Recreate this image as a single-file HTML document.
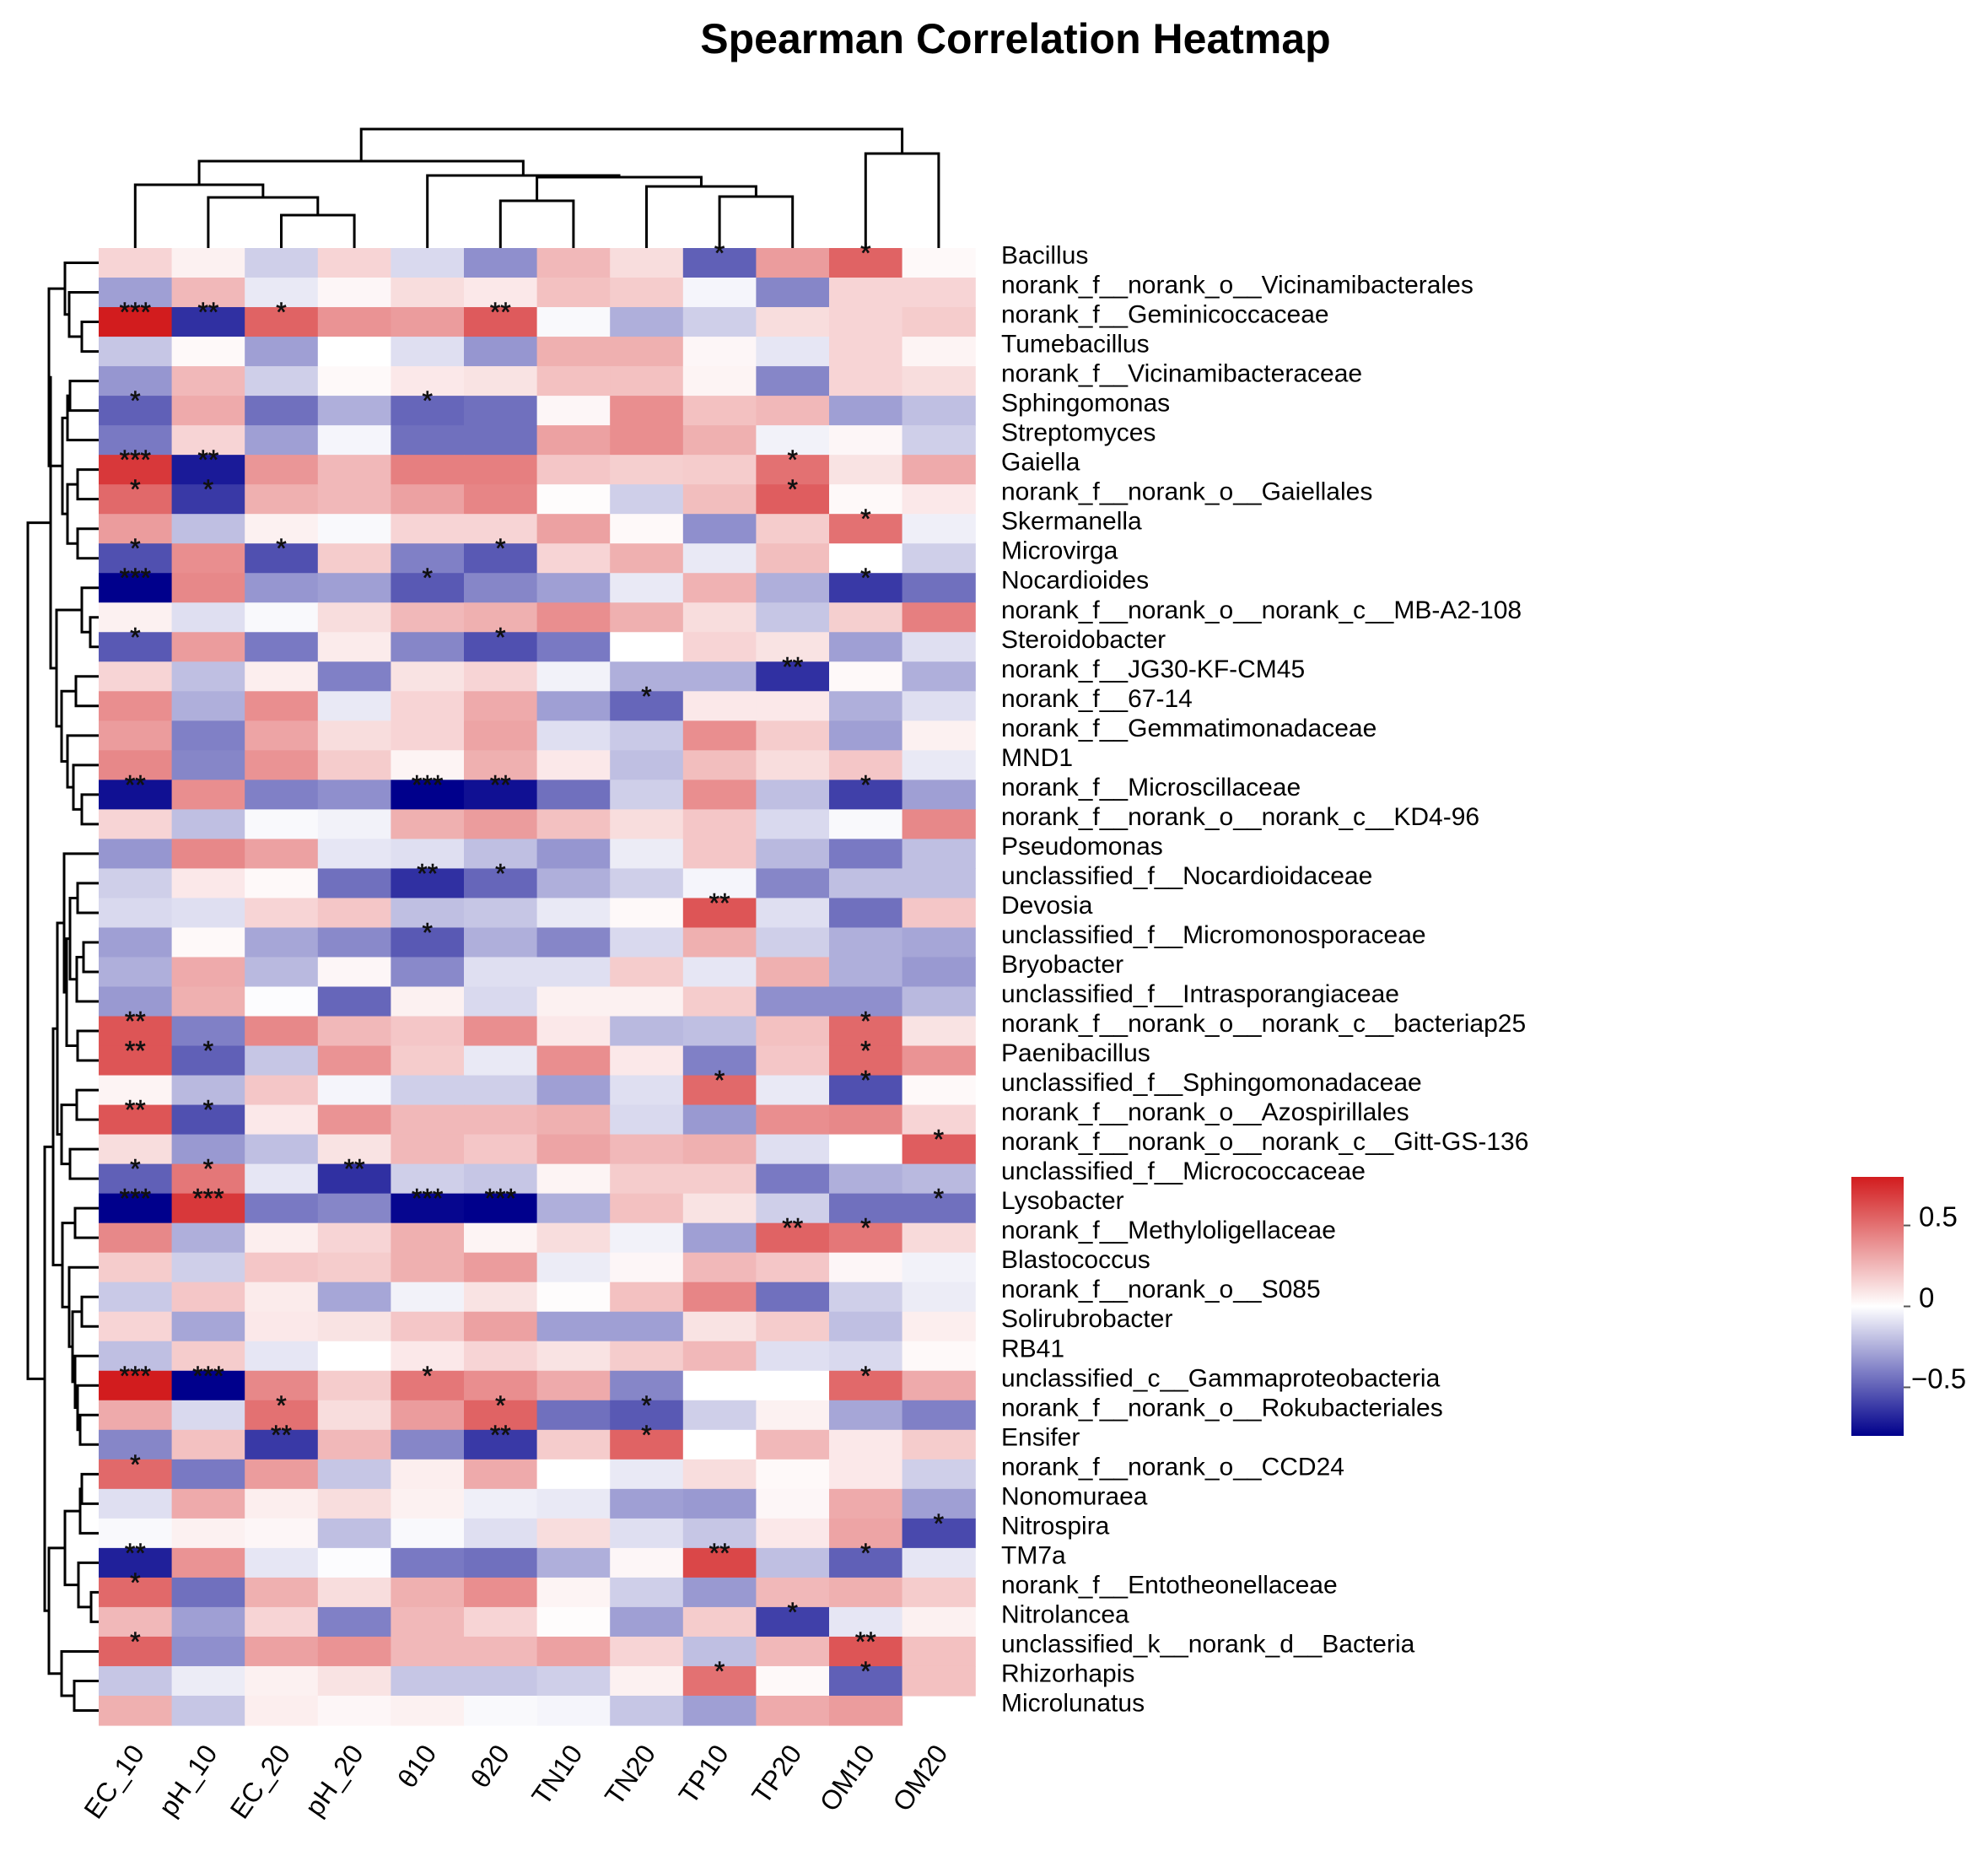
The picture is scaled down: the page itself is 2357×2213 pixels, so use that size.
<!DOCTYPE html>
<html><head><meta charset="utf-8"><title>Spearman Correlation Heatmap</title>
<style>
html,body{margin:0;padding:0;background:#fff;}
svg{display:block;font-family:"Liberation Sans",Arial,sans-serif;}
</style></head>
<body>
<svg id="chart" width="2357" height="2213" viewBox="0 0 2357 2213" xmlns="http://www.w3.org/2000/svg">
<text x="1204" y="63" text-anchor="middle" font-size="50" font-weight="bold">Spearman Correlation Heatmap</text>
<g id="cells"></g>
<g id="stars"></g>
<g id="rowlabels"></g>
<g id="collabels"></g>
<g id="coltree"></g>
<g id="rowtree"></g>
<g id="legend"></g>
</svg>
<script>
const columns = ["EC_10","pH_10","EC_20","pH_20","θ10","θ20","TN10","TN20","TP10","TP20","OM10","OM20"];
const rowNames = ["Bacillus","norank_f__norank_o__Vicinamibacterales","norank_f__Geminicoccaceae","Tumebacillus","norank_f__Vicinamibacteraceae","Sphingomonas","Streptomyces","Gaiella","norank_f__norank_o__Gaiellales","Skermanella","Microvirga","Nocardioides","norank_f__norank_o__norank_c__MB-A2-108","Steroidobacter","norank_f__JG30-KF-CM45","norank_f__67-14","norank_f__Gemmatimonadaceae","MND1","norank_f__Microscillaceae","norank_f__norank_o__norank_c__KD4-96","Pseudomonas","unclassified_f__Nocardioidaceae","Devosia","unclassified_f__Micromonosporaceae","Bryobacter","unclassified_f__Intrasporangiaceae","norank_f__norank_o__norank_c__bacteriap25","Paenibacillus","unclassified_f__Sphingomonadaceae","norank_f__norank_o__Azospirillales","norank_f__norank_o__norank_c__Gitt-GS-136","unclassified_f__Micrococcaceae","Lysobacter","norank_f__Methyloligellaceae","Blastococcus","norank_f__norank_o__S085","Solirubrobacter","RB41","unclassified_c__Gammaproteobacteria","norank_f__norank_o__Rokubacteriales","Ensifer","norank_f__norank_o__CCD24","Nonomuraea","Nitrospira","TM7a","norank_f__Entotheonellaceae","Nitrolancea","unclassified_k__norank_d__Bacteria","Rhizorhapis","Microlunatus"];
const values = [
[0.15,0.05,-0.15,0.15,-0.12,-0.35,0.25,0.12,-0.5,0.35,0.55,0.02],
[-0.3,0.25,-0.07,0.03,0.12,0.08,0.22,0.18,-0.03,-0.38,0.15,0.15],
[0.8,-0.65,0.55,0.38,0.35,0.58,-0.02,-0.25,-0.15,0.12,0.15,0.18],
[-0.18,0.02,-0.3,0.0,-0.1,-0.33,0.28,0.28,0.03,-0.08,0.15,0.04],
[-0.33,0.25,-0.15,0.02,0.08,0.1,0.22,0.22,0.04,-0.38,0.15,0.12],
[-0.5,0.3,-0.45,-0.25,-0.48,-0.45,0.03,0.4,0.22,0.25,-0.3,-0.2],
[-0.42,0.15,-0.3,-0.03,-0.45,-0.45,0.33,0.4,0.28,-0.04,0.03,-0.15],
[0.7,-0.72,0.37,0.25,0.45,0.45,0.2,0.17,0.18,0.5,0.1,0.3],
[0.53,-0.62,0.28,0.25,0.33,0.43,0.01,-0.15,0.23,0.57,0.02,0.08],
[0.35,-0.2,0.05,-0.02,0.15,0.15,0.33,0.02,-0.35,0.18,0.5,-0.05],
[-0.55,0.4,-0.55,0.18,-0.4,-0.52,0.15,0.28,-0.07,0.23,0.0,-0.15],
[-0.8,0.42,-0.33,-0.3,-0.52,-0.38,-0.3,-0.07,0.27,-0.25,-0.62,-0.45],
[0.05,-0.1,-0.02,0.12,0.25,0.28,0.4,0.28,0.12,-0.18,0.17,0.45],
[-0.52,0.35,-0.42,0.07,-0.38,-0.55,-0.42,0.0,0.15,0.1,-0.3,-0.1],
[0.15,-0.2,0.06,-0.4,0.1,0.15,-0.04,-0.25,-0.25,-0.65,0.02,-0.25],
[0.4,-0.25,0.4,-0.07,0.15,0.3,-0.3,-0.48,0.08,0.08,-0.25,-0.1],
[0.35,-0.4,0.32,0.12,0.15,0.32,-0.1,-0.17,0.4,0.18,-0.3,0.05],
[0.42,-0.38,0.38,0.18,0.04,0.28,0.08,-0.2,0.23,0.12,0.2,-0.07],
[-0.75,0.4,-0.4,-0.35,-0.85,-0.75,-0.45,-0.15,0.4,-0.2,-0.6,-0.3],
[0.15,-0.2,-0.02,-0.04,0.28,0.35,0.22,0.12,0.2,-0.12,-0.02,0.42],
[-0.33,0.42,0.33,-0.08,-0.1,-0.2,-0.33,-0.06,0.2,-0.22,-0.42,-0.2],
[-0.15,0.08,0.02,-0.45,-0.65,-0.48,-0.25,-0.15,-0.03,-0.38,-0.2,-0.2],
[-0.12,-0.1,0.15,0.2,-0.2,-0.18,-0.07,0.02,0.6,-0.1,-0.45,0.2],
[-0.3,0.02,-0.28,-0.37,-0.52,-0.25,-0.38,-0.12,0.28,-0.15,-0.25,-0.28],
[-0.25,0.3,-0.22,0.03,-0.37,-0.1,-0.1,0.18,-0.08,0.28,-0.25,-0.32],
[-0.32,0.28,-0.01,-0.48,0.05,-0.12,0.05,0.05,0.18,-0.35,-0.35,-0.22],
[0.6,-0.4,0.42,0.25,0.2,0.4,0.08,-0.22,-0.2,0.22,0.53,0.1],
[0.6,-0.5,-0.18,0.38,0.18,-0.07,0.4,0.08,-0.4,0.2,0.53,0.38],
[0.04,-0.22,0.2,-0.03,-0.15,-0.15,-0.3,-0.1,0.53,-0.07,-0.55,0.02],
[0.6,-0.55,0.08,0.38,0.25,0.25,0.28,-0.12,-0.32,0.4,0.42,0.15],
[0.12,-0.32,-0.2,0.1,0.25,0.2,0.32,0.25,0.28,-0.1,0.0,0.57],
[-0.5,0.48,-0.08,-0.65,-0.15,-0.18,0.04,0.18,0.18,-0.42,-0.25,-0.22],
[-0.85,0.7,-0.42,-0.38,-0.78,-0.85,-0.25,0.22,0.1,-0.15,-0.45,-0.45],
[0.42,-0.25,0.06,0.15,0.28,0.04,0.12,-0.04,-0.3,0.55,0.48,0.13],
[0.18,-0.15,0.2,0.18,0.28,0.35,-0.06,0.03,0.25,0.2,0.03,-0.04],
[-0.17,0.2,0.07,-0.28,-0.04,0.1,0.01,0.22,0.43,-0.45,-0.15,-0.06],
[0.15,-0.28,0.08,0.1,0.2,0.33,-0.3,-0.3,0.1,0.18,-0.2,0.06],
[-0.2,0.18,-0.08,0.0,0.08,0.15,0.1,0.18,0.25,-0.1,-0.12,0.02],
[0.8,-0.8,0.42,0.18,0.48,0.4,0.3,-0.38,0.0,0.0,0.53,0.3],
[0.3,-0.12,0.5,0.12,0.35,0.55,-0.45,-0.52,-0.15,0.05,-0.28,-0.4],
[-0.38,0.22,-0.62,0.25,-0.38,-0.62,0.18,0.55,0.0,0.25,0.08,0.18],
[0.53,-0.42,0.35,-0.18,0.06,0.3,0.0,-0.07,0.12,0.02,0.08,-0.15],
[-0.1,0.3,0.06,0.12,0.05,-0.05,-0.07,-0.3,-0.32,0.03,0.3,-0.3],
[-0.02,0.05,0.03,-0.2,-0.02,-0.1,0.12,-0.1,-0.18,0.08,0.32,-0.57],
[-0.7,0.38,-0.08,-0.01,-0.42,-0.45,-0.25,0.03,0.65,-0.2,-0.5,-0.08],
[0.53,-0.45,0.28,0.12,0.28,0.4,0.04,-0.15,-0.32,0.25,0.28,0.18],
[0.25,-0.3,0.15,-0.4,0.25,0.15,0.01,-0.3,0.18,-0.6,-0.08,0.05],
[0.55,-0.35,0.33,0.38,0.25,0.25,0.33,0.15,-0.2,0.25,0.6,0.22],
[-0.18,-0.06,0.05,0.1,-0.18,-0.18,-0.15,0.05,0.5,0.02,-0.5,0.22],
[0.28,-0.18,0.06,0.03,0.05,-0.02,-0.03,-0.18,-0.3,0.3,0.35,0.0]
];
// significance marks: [rowIndex(1-based), colIndex(0-based), mark]
const starRows = [1,1,3,3,3,3,6,6,8,8,8,9,9,9,10,11,11,11,12,12,12,14,14,15,16,19,19,19,19,22,22,23,24,27,27,28,28,28,29,29,30,30,31,32,32,32,33,33,33,33,33,34,34,39,39,39,39,40,40,40,41,41,41,42,44,45,45,45,46,47,48,48,49,49];
const starCols = [8,10,0,1,2,5,0,4,0,1,9,0,1,9,10,0,2,5,0,4,10,0,5,9,7,0,4,5,10,4,5,8,4,0,10,0,1,10,8,10,0,1,11,0,1,3,0,1,4,5,11,9,10,0,1,4,10,2,5,7,2,5,7,0,11,0,8,10,0,9,0,10,8,10];
const starMarks = ["*","*","***","**","*","**","*","*","***","**","*","*","*","*","*","*","*","*","***","*","*","*","*","**","*","**","***","**","*","**","*","**","*","**","*","**","*","*","*","*","**","*","*","*","*","**","***","***","***","***","*","**","*","***","***","*","*","*","*","*","**","**","*","*","*","**","**","*","*","*","*","**","*","*"];
const legendTicks = [0.5, 0, -0.5];
const legendTickLabels = ["0.5","0","\u22120.5"];

const NS = "http://www.w3.org/2000/svg";
const X0 = 117, CW = 86.6, Y0 = 294, RH = 35.02;
const VMAX = 0.8, VMIN = -0.8;
function xCol(i){ return X0 + i*CW; }
function yRow(r){ return Y0 + r*RH; }
function color(v){
  let t = Math.max(-1, Math.min(1, v/VMAX));
  let r,g,b;
  if (t >= 0){ r = 255 + (210-255)*t; g = 255 + (28-255)*t; b = 255 + (30-255)*t; }
  else { t = -t; r = 255*(1-t); g = 255*(1-t); b = 255 + (140-255)*t; }
  return "rgb(" + Math.round(r) + "," + Math.round(g) + "," + Math.round(b) + ")";
}
function mk(tag, attrs, parent){
  const el = document.createElementNS(NS, tag);
  for (const k in attrs) el.setAttribute(k, attrs[k]);
  parent.appendChild(el);
  return el;
}
const gCells = document.getElementById("cells");
values.forEach((row, r) => {
  row.forEach((v, c) => {
    if (r === values.length-1 && c === columns.length-1) return;
    const el = mk("rect", {x: xCol(c), y: yRow(r), width: CW+0.6, height: RH+0.6, fill: color(v)}, gCells);
    
    
  });
});
const gStars = document.getElementById("stars");
starMarks.forEach((m, i) => {
  const r = starRows[i]-1, c = starCols[i];
  const el = mk("text", {x: xCol(c)+CW/2, y: yRow(r)+17, "text-anchor": "middle", "font-size": 32, fill: "#111", stroke: "#111", "stroke-width": 0.6}, gStars);
  el.textContent = m;
  
  
});
const gRL = document.getElementById("rowlabels");
rowNames.forEach((n, r) => {
  const el = mk("text", {x: 1187, y: yRow(r)+RH/2+1, "font-size": 30, fill: "#000"}, gRL);
  el.textContent = n;
  
  
});
const gCL = document.getElementById("collabels");
columns.forEach((n, c) => {
  const x = xCol(c)+CW/2+12, y = 2078;
  const el = mk("text", {x: x, y: y, "text-anchor": "end", "font-size": 32, transform: "rotate(-55 " + x + " " + y + ")"}, gCL);
  el.textContent = n;
  
  
});

function node(a, b, h){ return {a: a, b: b, h: h}; }
function drawTree(tree, pos, parentG, vertical){
  function walk(n){
    if (typeof n === "number") return {p: pos(n), h: vertical ? Y0 : X0};
    const A = walk(n.a), B = walk(n.b);
    const d = vertical
      ? "M"+A.p+","+A.h+"V"+n.h+"H"+B.p+"V"+B.h
      : "M"+A.h+","+A.p+"H"+n.h+"V"+B.p+"H"+B.h;
    const el = mk("path", {d: d, fill: "none", stroke: "#000", "stroke-width": 3}, parentG);
    
    
    return {p: (A.p+B.p)/2, h: n.h};
  }
  walk(tree);
}
const colTree = node(
  node(node(0, node(1, node(2,3,255),234),219), node(4, node(node(5,6,238), node(7, node(8,9,233),221),210),208),191),
  node(10,11,182), 153);
drawTree(colTree, i => xCol(i)+CW/2, document.getElementById("coltree"), true);

const A = node(1, node(2, node(3,4,97),82),77);
const B = node(node(node(5,6,83),7,80), node(node(8,9,92), node(10,11,92),80),74);
const C = node(node(12, node(13,14,107),97), node(node(15,16,90), node(17, node(18, node(19,20,97),87),80),73),67);
const T = node(node(A,B,58), C, 60);
const U1 = node(21, node(node(node(22,23,92), node(node(24,25,99),26,91),83), node(27,28,92),79),76);
const U2 = node(node(29,30,91), node(31,32,83),73);
const V = node(node(33,34,89), node(35, node(node(36,37,97), node(38, node(39, node(40,41,95),92),89),86),82),74);
const U = node(node(U1,U2,68), V, 63);
const W = node(node(node(node(42,43,97),44,95), node(45, node(46,47,108),93),77), node(48, node(49,50,88),73),58);
const rowTree = node(T, node(U, W, 53), 33);
drawTree(rowTree, r => yRow(r-1)+RH/2, document.getElementById("rowtree"), false);

const gL = document.getElementById("legend");
const defs = mk("defs", {}, gL);
const grad = mk("linearGradient", {id: "cbar", x1: 0, y1: 0, x2: 0, y2: 1}, defs);
for (let i = 0; i <= 16; i++){
  const v = VMAX - i*(VMAX-VMIN)/16;
  mk("stop", {offset: (i/16), "stop-color": color(v)}, grad);
}
const LT = 1395, LB = 1702, LX = 2195, LW = 62;
function yLeg(v){ return LT + (VMAX - v)/(VMAX-VMIN)*(LB-LT); }
const bar = mk("rect", {x: LX, y: LT, width: LW, height: LB-LT, fill: "url(#cbar)"}, gL);


legendTicks.forEach((v, i) => {
  const y = yLeg(v);
  const tk = mk("line", {x1: LX+LW, x2: LX+LW+8, y1: y, y2: y, stroke: "#555", "stroke-width": 2}, gL);
  
  
  const el = mk("text", {x: LX+LW+ (i===2 ? 9 : 18), y: y+1, "font-size": 33}, gL);
  el.textContent = legendTickLabels[i];
  
  
});
</script>
</body></html>
